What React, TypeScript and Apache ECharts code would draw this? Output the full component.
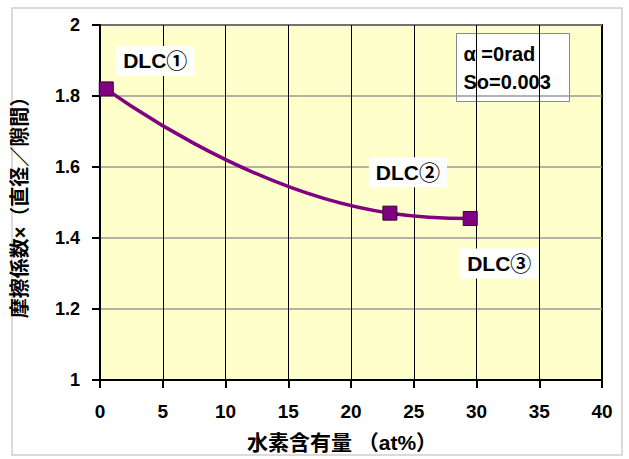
import React, { useEffect, useRef } from "react";
import * as echarts from "echarts";

const hydrogen = [0.5, 23.1, 29.5];
const friction = [1.82, 1.47, 1.455];
const pointLabels = ["DLC①", "DLC②", "DLC③"];
const xTicks = [0, 5, 10, 15, 20, 25, 30, 35, 40];
const yTicks = [1, 1.2, 1.4, 1.6, 1.8, 2];
const noteLines = ["α =0rad", "So=0.003"];

const labelOffsets: [number, number][] = [
  [49, -28],
  [18, -41],
  [29, 45],
];

const FONT = "'Liberation Sans', Arial, 'Noto Sans CJK JP', sans-serif";

export default function App() {
  const ref = useRef<HTMLDivElement>(null);
  useEffect(() => {
    if (!ref.current) return;
    const chart = echarts.init(ref.current, null, { renderer: "svg" });
    const data = hydrogen.map((x, i) => ({
      value: [x, friction[i]],
      label: {
        show: true,
        formatter: pointLabels[i],
        position: "inside",
        offset: labelOffsets[i],
        color: "#000",
        fontSize: 21,
        fontWeight: "bold",
        fontFamily: FONT,
        backgroundColor: "#fff",
        padding: [5, 7, 4, 7],
      },
    }));
    chart.setOption({
      animation: false,
      backgroundColor: "#fff",
      textStyle: { fontFamily: FONT },
      grid: {
        left: 100,
        top: 25,
        right: 27,
        bottom: 79,
        show: true,
        backgroundColor: "#FFFFCC",
        borderColor: "#000",
        borderWidth: 2,
      },
      xAxis: {
        type: "value",
        min: xTicks[0],
        max: xTicks[xTicks.length - 1],
        interval: 5,
        name: "水素含有量 （at%）",
        nameLocation: "middle",
        nameGap: 52,
        nameTextStyle: {
          fontSize: 21,
          fontWeight: "bold",
          color: "#000",
          fontFamily: FONT,
          padding: [0, 18, 0, 0],
        },
        axisLine: { show: true, lineStyle: { color: "#000", width: 2 } },
        axisTick: { show: true, length: 8, lineStyle: { color: "#000", width: 2 } },
        axisLabel: {
          fontSize: 19,
          fontWeight: "bold",
          color: "#000",
          margin: 22,
          fontFamily: FONT,
        },
        splitLine: { show: true, lineStyle: { color: "#000", width: 1 } },
      },
      yAxis: {
        type: "value",
        min: yTicks[0],
        max: yTicks[yTicks.length - 1],
        interval: 0.2,
        name: "摩擦係数×（直径／隙間）",
        nameLocation: "middle",
        nameGap: 70,
        nameTextStyle: {
          fontSize: 20,
          fontWeight: "bold",
          color: "#000",
          fontFamily: FONT,
        },
        axisLine: { show: true, lineStyle: { color: "#000", width: 2 } },
        axisTick: { show: true, length: 8, lineStyle: { color: "#000", width: 2 } },
        axisLabel: {
          fontSize: 18,
          fontWeight: "bold",
          color: "#000",
          margin: 20,
          fontFamily: FONT,
          formatter: (v: number) => (v === 1 || v === 2 ? String(v) : v.toFixed(1)),
        },
        splitLine: { show: true, lineStyle: { color: "#999", width: 1.5 } },
      },
      series: [
        {
          type: "line",
          data,
          smooth: 0.5,
          symbol: "rect",
          symbolSize: 14,
          lineStyle: { color: "#800080", width: 3.5 },
          itemStyle: { color: "#800080", borderColor: "#3a003a", borderWidth: 1 },
          z: 5,
        },
      ],
      graphic: [
        {
          type: "rect",
          shape: { x: 12, y: 8, width: 610, height: 447 },
          style: { fill: "none", stroke: "#d0d0d0", lineWidth: 1.5 },
          silent: true,
          z: -10,
        },
        {
          type: "group",
          left: 456,
          top: 33,
          z: 20,
          children: [
            {
              type: "rect",
              shape: { x: 0, y: 0, width: 113, height: 68 },
              style: { fill: "#fff", stroke: "#888", lineWidth: 1 },
            },
            {
              type: "text",
              x: 7,
              y: 6,
              style: {
                text: noteLines.join("\n"),
                fontSize: 20,
                fontWeight: "bold",
                fontFamily: FONT,
                fill: "#000",
                lineHeight: 28,
              },
            },
          ],
        },
      ],
    });
    return () => chart.dispose();
  }, []);
  return (
    <div
      ref={ref}
      style={{ position: "fixed", left: 0, top: 0, width: 629, height: 459 }}
    />
  );
}
